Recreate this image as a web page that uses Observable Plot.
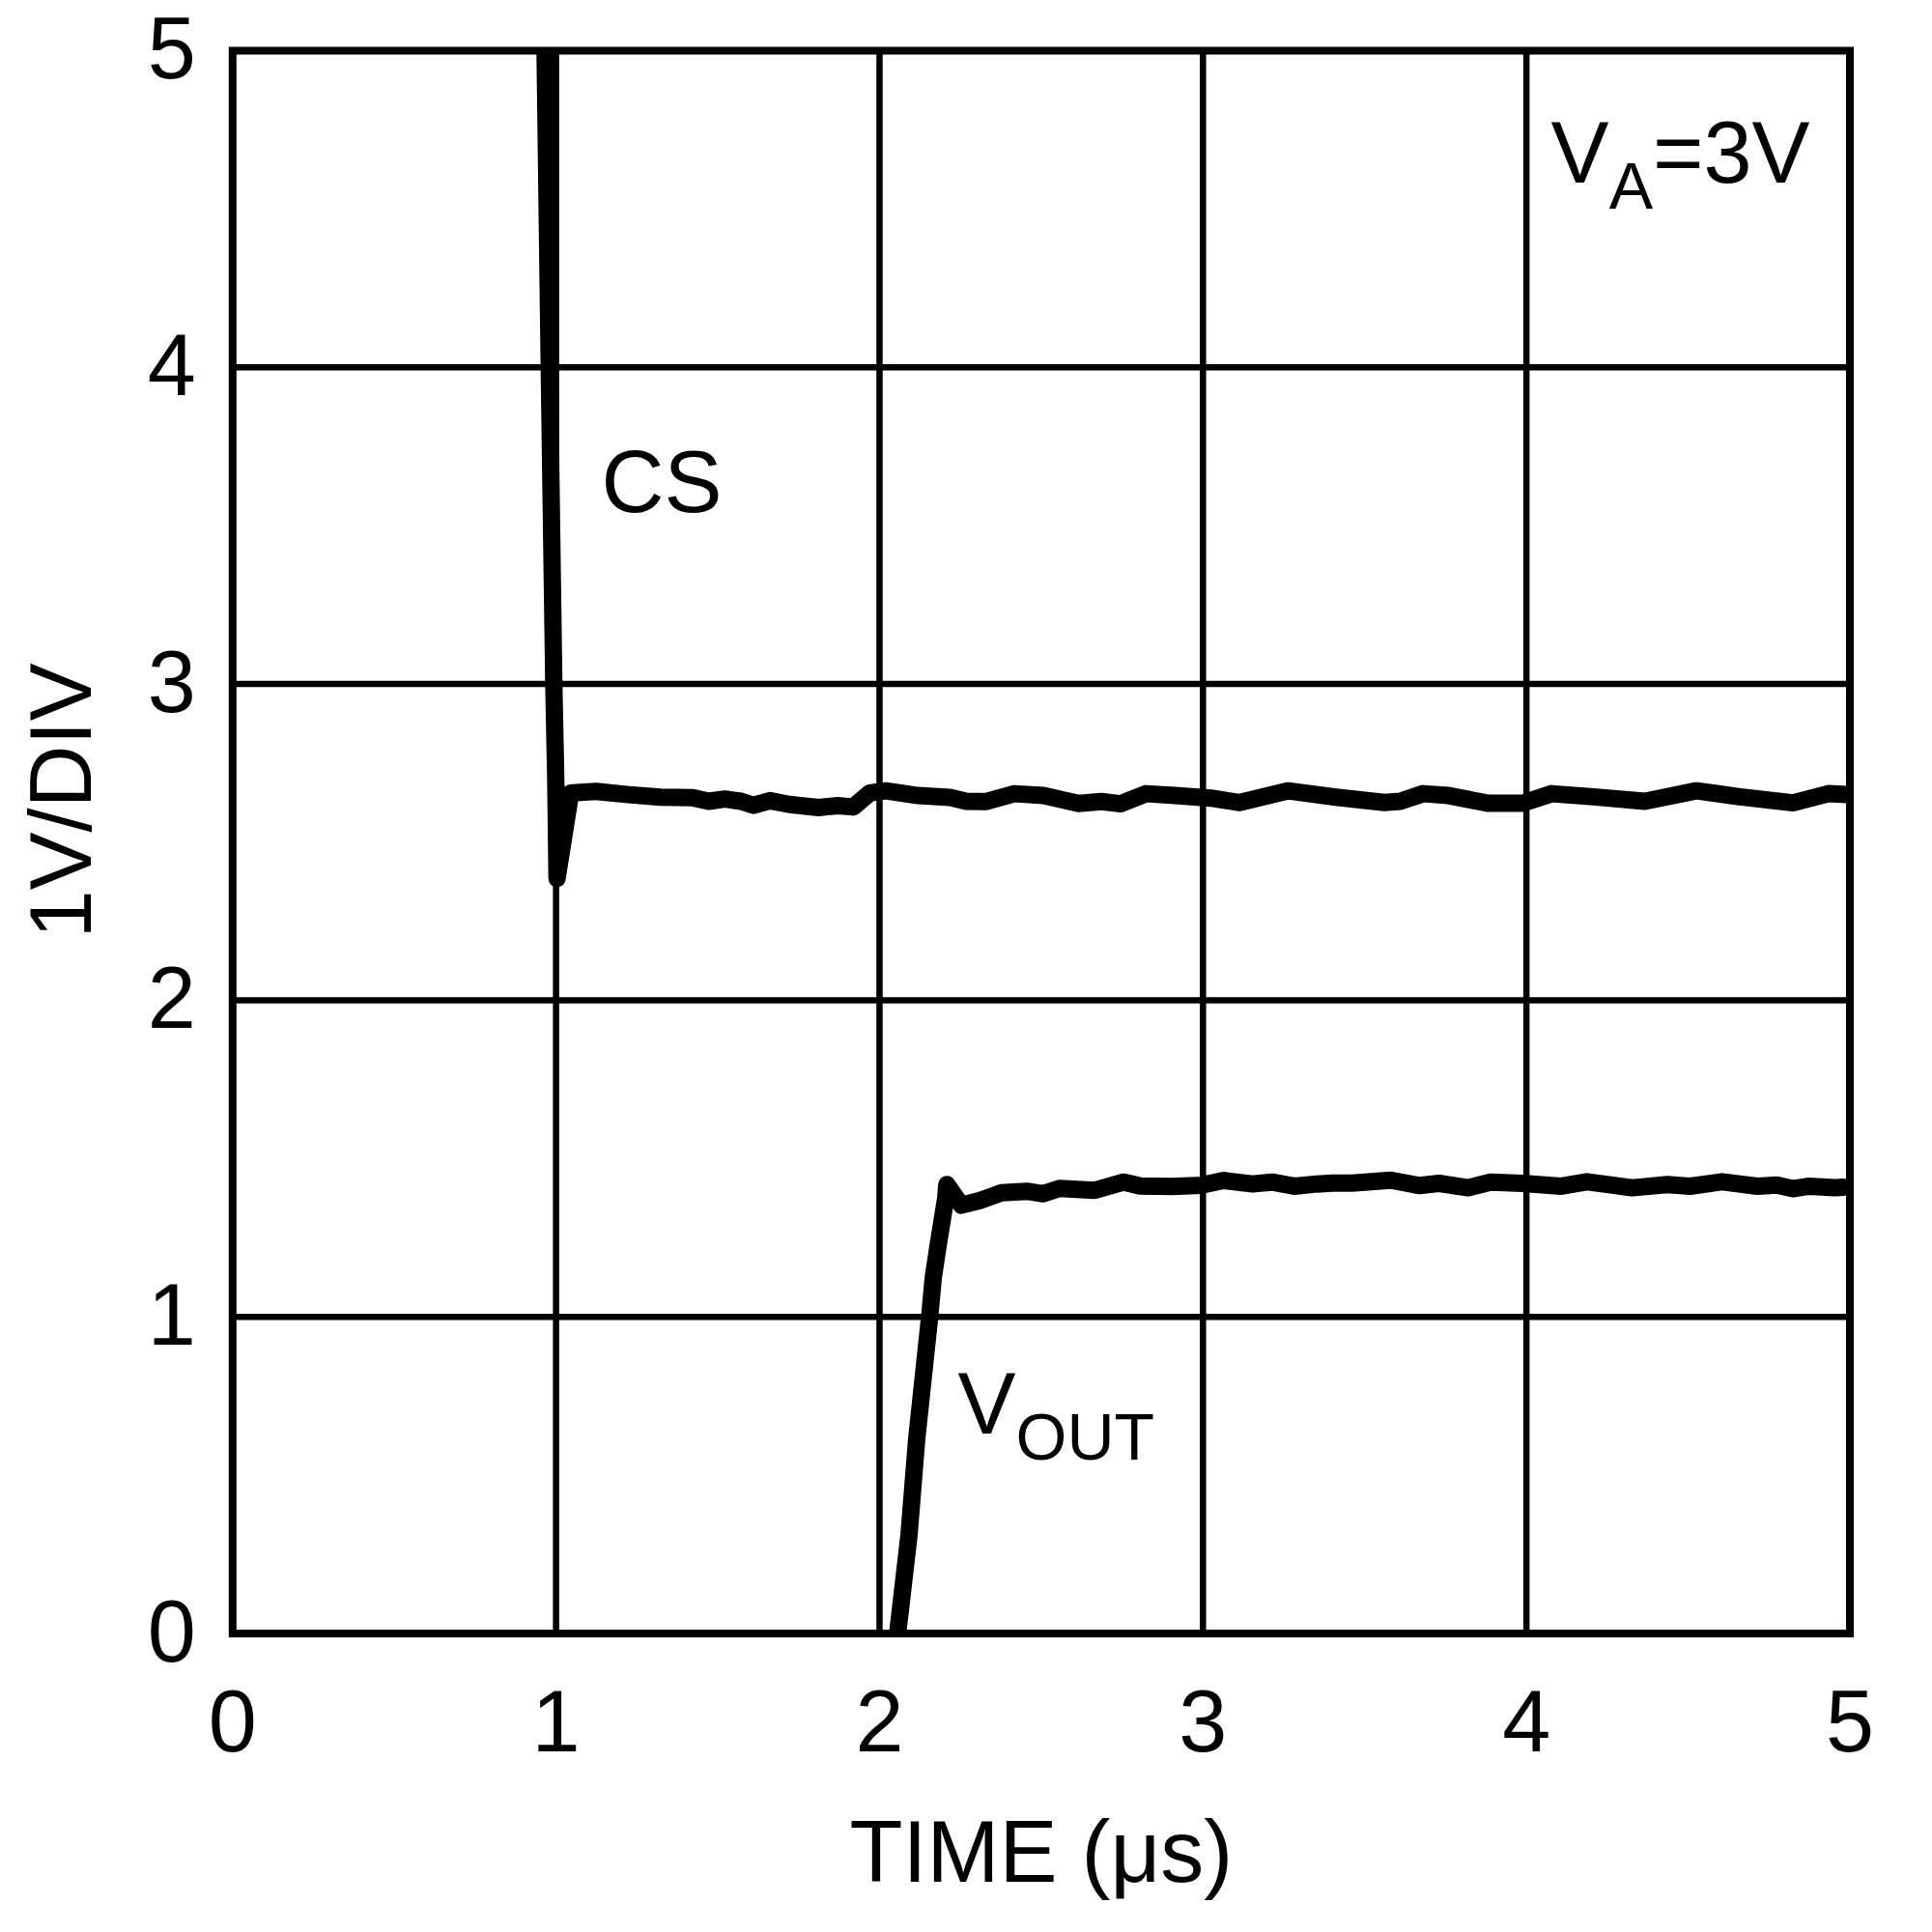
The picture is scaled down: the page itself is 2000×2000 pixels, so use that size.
<!DOCTYPE html>
<html>
<head>
<meta charset="utf-8">
<script src="https://cdn.jsdelivr.net/npm/d3@7"></script>
<script src="https://cdn.jsdelivr.net/npm/@observablehq/plot@0.6"></script>
<style>
  html, body { margin: 0; padding: 0; background: #fff; overflow: hidden; }
</style>
</head>
<body>
<div id="chart"></div>
<script>
// ---- data ----
const xTicks = [0, 1, 2, 3, 4, 5];
const yTicks = [0, 1, 2, 3, 4, 5];
const xGrid = [1, 2, 3, 4];
const yGrid = [1, 2, 3, 4];

const csTime = [0.966, 0.979, 0.993, 0.999, 1.003, 1.045, 1.075, 1.124, 1.224, 1.323, 1.423, 1.472, 1.522, 1.572, 1.611, 1.661, 1.721, 1.811, 1.87, 1.919, 1.97, 2.019, 2.119, 2.218, 2.268, 2.328, 2.417, 2.507, 2.615, 2.686, 2.745, 2.824, 2.914, 3.024, 3.113, 3.262, 3.411, 3.561, 3.61, 3.68, 3.76, 3.879, 3.988, 4.078, 4.207, 4.366, 4.525, 4.654, 4.824, 4.933, 4.99];
const csVolt = [5.0, 4.0, 3.0, 2.7, 2.385, 2.655, 2.657, 2.66, 2.65, 2.642, 2.64, 2.629, 2.636, 2.629, 2.616, 2.631, 2.619, 2.609, 2.615, 2.611, 2.655, 2.662, 2.647, 2.641, 2.629, 2.628, 2.653, 2.647, 2.622, 2.628, 2.621, 2.653, 2.647, 2.639, 2.625, 2.662, 2.642, 2.625, 2.629, 2.653, 2.647, 2.623, 2.623, 2.653, 2.643, 2.629, 2.662, 2.644, 2.624, 2.653, 2.65];

const voutTime = [2.056, 2.091, 2.115, 2.155, 2.166, 2.181, 2.205, 2.208, 2.253, 2.308, 2.377, 2.456, 2.506, 2.556, 2.666, 2.755, 2.805, 2.904, 2.994, 3.063, 3.153, 3.213, 3.282, 3.352, 3.401, 3.461, 3.581, 3.67, 3.73, 3.82, 3.889, 3.988, 4.108, 4.187, 4.327, 4.436, 4.506, 4.605, 4.714, 4.774, 4.824, 4.874, 4.953, 4.98];
const voutVolt = [0.0, 0.31, 0.615, 1.0, 1.123, 1.225, 1.377, 1.418, 1.353, 1.367, 1.392, 1.397, 1.389, 1.406, 1.4, 1.426, 1.414, 1.412, 1.416, 1.431, 1.42, 1.426, 1.413, 1.42, 1.423, 1.423, 1.432, 1.415, 1.422, 1.408, 1.426, 1.422, 1.413, 1.427, 1.408, 1.418, 1.413, 1.427, 1.413, 1.417, 1.405, 1.413, 1.408, 1.41];

const xTitle = "TIME (μs)";
const yTitle = "1V/DIV";
// annotation texts: [text, role]  (role: main / sub)
const csLabel = [["CS", "main"]];
const voutLabel = [["V", "main"], ["OUT", "sub"]];
const vaLabel = [["V", "main"], ["A", "sub"], ["=3V", "main"]];

// ---- layout / style ----
const FONT = "'Liberation Sans', Arial, Helvetica, sans-serif";
const MAIN = 90, SUB = 68, SUBDY = 27;
const annoPos = {
  cs:   {x: 1.140, y: 3.544},
  vout: {x: 2.242, y: 0.633},
  va:   {x: 4.076, y: 4.582}
};
// advance widths (em) for Arial-metric glyphs used to place sub parts
const adv = {"V": 0.667, "A": 0.667, "O": 0.778, "U": 0.722, "T": 0.611, "C": 0.722, "S": 0.667, "=": 0.584, "3": 0.556};
function textWidth(s, size) { return [...s].reduce((a, c) => a + (adv[c] || 0.556), 0) * size; }

function richMarks(parts, pos) {
  let off = 0;
  const marks = [];
  for (const [t, role] of parts) {
    const size = role === "sub" ? SUB : MAIN;
    marks.push(Plot.text([{x: pos.x, y: pos.y, t}], {
      x: "x", y: "y", text: "t",
      fontSize: size, textAnchor: "start", lineAnchor: "bottom",
      dx: off, dy: role === "sub" ? SUBDY : 0, fill: "black"
    }));
    off += textWidth(t, size);
  }
  return marks;
}

const cs = csTime.map((t, i) => ({t, v: csVolt[i]}));
const vout = voutTime.map((t, i) => ({t, v: voutVolt[i]}));

const chart = Plot.plot({
  width: 2000,
  height: 2000,
  marginLeft: 240.3,
  marginRight: 85.5,
  marginTop: 52,
  marginBottom: 309.5,
  style: {fontFamily: FONT, fontSize: "90px", background: "#fff", color: "black"},
  x: {domain: [0, 5]},
  y: {domain: [0, 5]},
  marks: [
    Plot.ruleX(xGrid, {stroke: "black", strokeWidth: 6.5}),
    Plot.ruleY(yGrid, {stroke: "black", strokeWidth: 6.5}),
    Plot.line(cs, {x: "t", y: "v", stroke: "black", strokeWidth: 18, clip: true}),
    Plot.line(vout, {x: "t", y: "v", stroke: "black", strokeWidth: 18, clip: true}),
    Plot.frame({stroke: "black", strokeWidth: 8}),
    Plot.axisX({ticks: xTicks, tickSize: 0, tickPadding: 58, label: null, fontSize: MAIN, tickFormat: d => String(d)}),
    Plot.axisY({ticks: yTicks, tickSize: 0, tickPadding: 38, label: null, fontSize: MAIN, tickFormat: d => String(d)}),
    Plot.text([xTitle], {frameAnchor: "bottom", dy: 228, lineAnchor: "middle", textAnchor: "middle", fontSize: MAIN, fill: "black"}),
    Plot.text([yTitle], {frameAnchor: "left", rotate: -90, dx: -175.2, dy: -42.75, lineAnchor: "middle", textAnchor: "middle", fontSize: MAIN, fill: "black"}),
    ...richMarks(csLabel, annoPos.cs),
    ...richMarks(voutLabel, annoPos.vout),
    ...richMarks(vaLabel, annoPos.va)
  ]
});
document.getElementById("chart").appendChild(chart);
</script>
</body>
</html>
